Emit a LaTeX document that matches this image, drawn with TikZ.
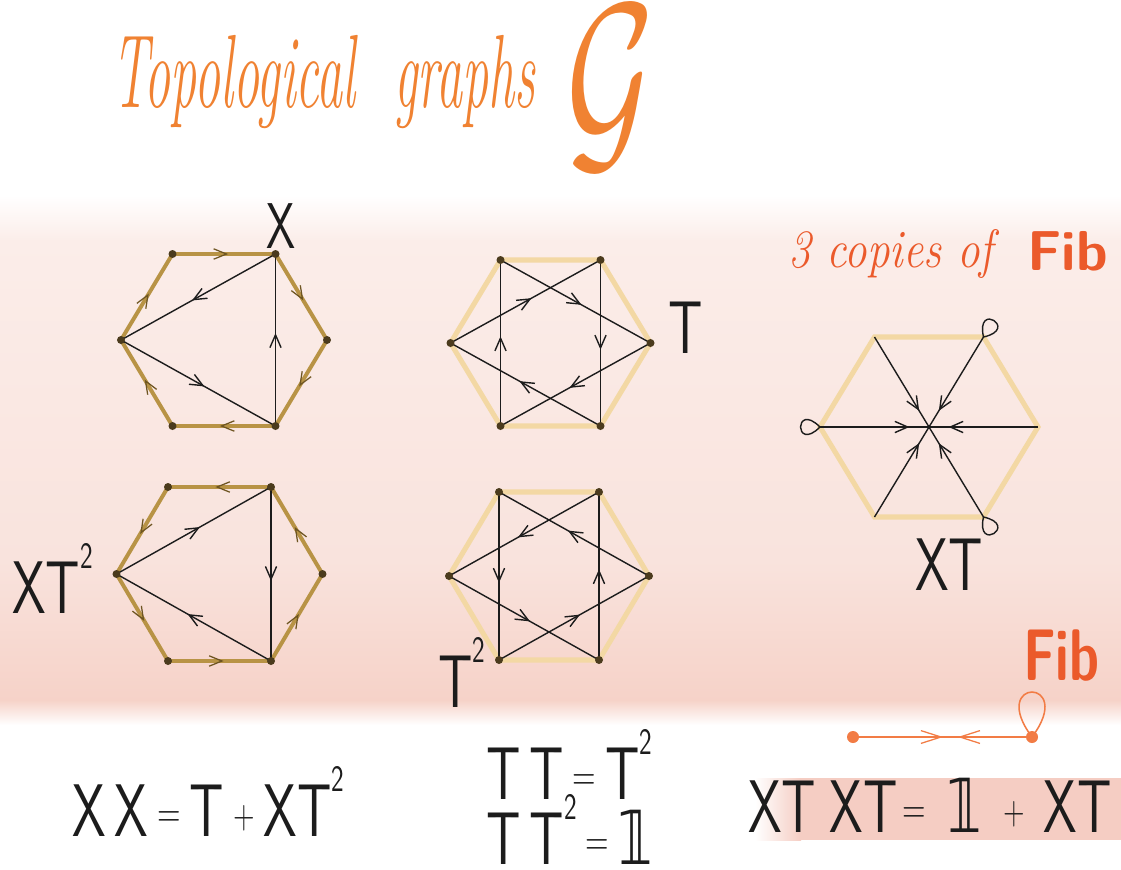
\documentclass[tikz,border=0pt]{standalone}
\usepackage{fontspec}
\usepackage{graphicx}
\usetikzlibrary{arrows.meta,decorations.markings}
\newfontfamily\bbfont{DejaVu Sans}
\definecolor{titleorange}{HTML}{F08232}
\definecolor{fiborange}{HTML}{EB5A2B}
\definecolor{graphorange}{HTML}{F27C45}
\definecolor{goldline}{HTML}{B89345}
\definecolor{golddark}{HTML}{6E5522}
\definecolor{tanline}{HTML}{F3D8A4}
\definecolor{inkblack}{HTML}{1C1C1C}
\definecolor{dotbrown}{HTML}{4B3B1D}
\definecolor{bandtop}{HTML}{FBEDE9}
\definecolor{bandmid}{HTML}{F9E3DD}
\definecolor{bandbot}{HTML}{F6D2C8}
\definecolor{hlpink}{HTML}{F5CDC3}
\newcommand{\hw}[1]{\scalebox{0.72}[1]{#1}}
\newcommand{\twosup}{\smash{\raisebox{0.6em}{\scalebox{0.5}{2}}}}
\newcommand{\eqsign}{\raisebox{0.12em}{\scalebox{0.6}{=}}}
\newcommand{\plussign}{\raisebox{0.1em}{\scalebox{0.55}{+}}}
\newcommand{\bbone}{{\bbfont 𝟙}}
\tikzset{
  goldedge/.style={draw=goldline, line width=2.8pt, line cap=round},
  tanedge/.style={draw=tanline, line width=3.6pt, line join=miter},
  strand/.style={draw=inkblack, line width=1pt},
  vdot/.style={fill=dotbrown},
  midarrow/.style={postaction={decorate}, decoration={markings, mark=at position #1 with {\arrow{Straight Barb[length=3.2mm,width=2.8mm]}}}},
  midarrow/.default=0.54,
  goldarrow/.style={postaction={decorate}, decoration={markings, mark=at position 0.54 with {\arrow{Straight Barb[length=3.2mm,width=2.6mm,line width=0.9pt,color=golddark]}}}},
  fibline/.style={draw=graphorange, line width=1.8pt},
  fibarrows/.style={postaction={decorate}, decoration={markings,
    mark=at position 0.503 with {\arrow{Straight Barb[length=5mm,width=3.2mm,line width=0.9pt]}},
    mark=at position 0.586 with {\arrowreversed{Straight Barb[length=5mm,width=3.2mm,line width=0.9pt]}}}},
  handtext/.style={inner sep=0pt, anchor=base west, text=inkblack, font=\fontsize{53}{60}\selectfont\sffamily},
  titletext/.style={inner sep=0pt, anchor=base west, text=titleorange, font=\fontsize{37}{40}\selectfont\itshape},
  copytext/.style={inner sep=0pt, anchor=base west, text=fiborange, font=\fontsize{32}{36}\selectfont\itshape},
  fibtext/.style={inner sep=0pt, anchor=base west, text=fiborange, font=\fontsize{40}{44}\selectfont\sffamily\bfseries}
}
\begin{document}
\begin{tikzpicture}[x=0.025cm,y=-0.025cm]
\useasboundingbox (0,0) rectangle (1121,870);
\fill[white] (0,0) rectangle (1121,870);

% Pink wash behind the graphs.
\shade[top color=white, bottom color=bandtop] (0,195) rectangle (1121,241);
\shade[top color=bandtop, bottom color=bandmid] (0,240) rectangle (1121,561);
\shade[top color=bandmid, bottom color=bandbot] (0,560) rectangle (1121,701);
\shade[top color=bandbot, bottom color=white] (0,700) rectangle (1121,725);
\shade[left color=white, right color=hlpink] (755,778) rectangle (801,840);
\fill[hlpink] (800,778) rectangle (1121,840);

% Title.
\node[titletext] (title) at (112,107) {\scalebox{1}[2]{Topological\hspace{0.75em}graphs}};
\node[titletext] (calG) at (566,149) {\scalebox{3.85}[6]{$\mathcal{G}$}};

% Hexagon corners.
\foreach \n/\cx/\cy/\rad/\hh in {A/224/340/103/86, B/550.5/343/100/83, C/929/427/109/90, D/219.5/574/103/87, E/549/576/100/84} {
  \coordinate (\n-c) at (\cx,\cy);
  \coordinate (\n-tl) at (\cx-\rad/2,\cy-\hh);
  \coordinate (\n-tr) at (\cx+\rad/2,\cy-\hh);
  \coordinate (\n-r) at (\cx+\rad,\cy);
  \coordinate (\n-br) at (\cx+\rad/2,\cy+\hh);
  \coordinate (\n-bl) at (\cx-\rad/2,\cy+\hh);
  \coordinate (\n-l) at (\cx-\rad,\cy);
}

\foreach \n in {B,C,E}
  \draw[tanedge] (\n-tl) -- (\n-tr) -- (\n-r) -- (\n-br) -- (\n-bl) -- (\n-l) -- cycle;
\foreach \u/\v in {tl/tr,tr/r,r/br,br/bl,bl/l,l/tl}
  \draw[goldedge, goldarrow] (A-\u) -- (A-\v);
\foreach \u/\v in {tr/tl,tl/l,l/bl,bl/br,br/r,r/tr}
  \draw[goldedge, goldarrow] (D-\u) -- (D-\v);

% Strands inside the hexagons.
\foreach \u/\v in {tr/l,l/br,br/tr}
  \draw[strand, midarrow] (A-\u) -- (A-\v);
\foreach \u/\v in {l/tr,tr/br,br/l}
  \draw[strand, midarrow] (D-\u) -- (D-\v);
\foreach \u/\v in {tl/r,r/bl,bl/tl,l/tr,tr/br,br/l}
  \draw[strand, midarrow] (B-\u) -- (B-\v);
\foreach \u/\v in {tl/bl,bl/r,r/tl,tr/l,l/br,br/tr}
  \draw[strand, midarrow] (E-\u) -- (E-\v);
\foreach \v in {tl,tr,r,br,bl,l}
  \draw[strand, midarrow=0.82] (C-\v) -- (C-c);
\draw[strand] (C-l) .. controls +(-26,-26) and +(-26,26) .. (C-l);
\draw[strand] (C-tr) .. controls +(36,-8) and +(-8,-36) .. (C-tr);
\draw[strand] (C-br) .. controls +(-8,36) and +(36,8) .. (C-br);

\foreach \n in {A,B,D,E}
  \foreach \v in {tl,tr,r,br,bl,l}
    \fill[vdot] (\n-\v) circle (1mm);

% Labels of the graphs.
\node[handtext, font=\fontsize{46}{50}\selectfont\sffamily] (labX) at (266,248) {\hw{X}};
\node[handtext] (labT) at (668,353) {\hw{T}};
\node[handtext] (labXTT) at (12,613) {\hw{XT\twosup}};
\node[handtext] (labTT) at (438,707) {\hw{T\twosup}};
\node[handtext] (labXT) at (915,590) {\hw{XT}};

\node[copytext] (copies) at (788,267) {\scalebox{1}[1.2]{3 copies of}};
\node[fibtext] (fibA) at (1027,270) {Fib};
\node[fibtext] (fibB) at (1023,680) {\scalebox{0.95}[1.3]{Fib}};

% The Fib graph.
\coordinate (fibL) at (853,737);
\coordinate (fibR) at (1032,737);
\draw[fibline, fibarrows] (fibL) -- (fibR);
\draw[draw=graphorange, line width=1.1pt] (fibR) .. controls +(45,-60) and +(-45,-60) .. (fibR);
\fill[graphorange] (fibL) circle (1.5mm);
\fill[graphorange] (fibR) circle (1.5mm);

% Fusion rules.
\node[handtext] (eqXX) at (72,836) {\hw{X\,X\,\eqsign\,T\,\plussign\,XT\twosup}};
\node[handtext] (eqTT) at (486,799) {\hw{T\,T\,\eqsign\,T\twosup}};
\node[handtext] (eqTTT) at (486,864) {\hw{T\,T\twosup\,\eqsign\,\bbone}};
\node[handtext] (eqXT) at (748,832) {\hw{XT\hspace{0.25em}XT\hspace{0.1em}\eqsign\hspace{0.4em}\bbone\hspace{0.4em}\plussign\hspace{0.35em}XT}};

\end{tikzpicture}
\end{document}
